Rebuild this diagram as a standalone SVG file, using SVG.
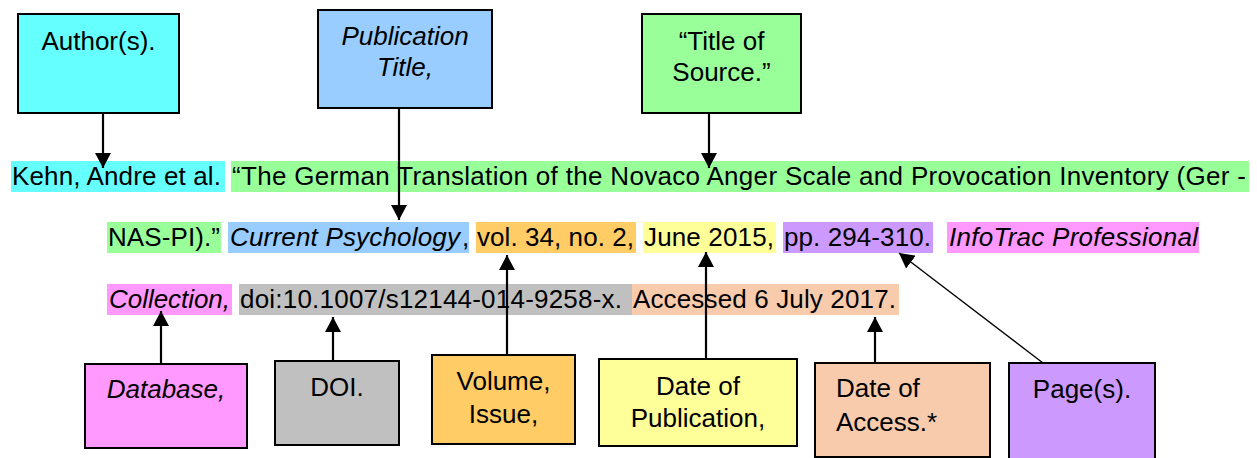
<svg xmlns="http://www.w3.org/2000/svg" width="1257" height="458" viewBox="0 0 1257 458">
<style>
  text { font-family: "Liberation Sans", Arial, sans-serif; font-size: 26px; fill: #000; }
  .it { font-style: italic; }
  .box { stroke: #000; stroke-width: 2; }
  .c { text-anchor: middle; }
  .conn { stroke: #000; stroke-width: 2.2; fill: none; }
  .thin { stroke: #000; stroke-width: 1.3; fill: none; }
</style>
<defs>
  <marker id="ah" markerUnits="userSpaceOnUse" markerWidth="16" markerHeight="16" viewBox="0 0 16 16" refX="15" refY="8" orient="auto">
    <path d="M0,0 L15,8 L0,16 Z" fill="#000"/>
  </marker>
</defs>
<rect width="1257" height="458" fill="#fff"/>

<g id="citation">
  <rect x="11" y="161" width="214" height="31" fill="#66FFFF"/>
  <rect x="231" y="161" width="1018" height="31" fill="#99FF99"/>
  <text x="12" y="185" textLength="209" lengthAdjust="spacing">Kehn, Andre et al.</text>
  <text x="232" y="185" textLength="1014" lengthAdjust="spacing">“The German Translation of the Novaco Anger Scale and Provocation Inventory (Ger -</text>

  <rect x="107" y="222" width="114" height="31" fill="#99FF99"/>
  <rect x="228" y="222" width="241" height="31" fill="#99CCFF"/>
  <rect x="476" y="222" width="160" height="31" fill="#FFCC66"/>
  <rect x="643" y="222" width="133" height="31" fill="#FFFF99"/>
  <rect x="783" y="222" width="150" height="31" fill="#CC99FF"/>
  <rect x="947" y="222" width="252" height="31" fill="#FF99FF"/>
  <text x="108" y="246" textLength="112" lengthAdjust="spacing">NAS-PI).”</text>
  <text x="230" y="246" class="it" textLength="230" lengthAdjust="spacing">Current Psychology</text>
  <text x="462" y="246">,</text>
  <text x="477" y="246" textLength="157" lengthAdjust="spacing">vol. 34, no. 2,</text>
  <text x="644" y="246" textLength="130" lengthAdjust="spacing">June 2015,</text>
  <text x="784" y="246" textLength="147" lengthAdjust="spacing">pp. 294-310.</text>
  <text x="949" y="246" class="it" textLength="249" lengthAdjust="spacing">InfoTrac Professional</text>

  <rect x="107" y="284" width="125" height="31" fill="#FF99FF"/>
  <rect x="239" y="284" width="393" height="31" fill="#C0C0C0"/>
  <rect x="632" y="284" width="267" height="31" fill="#F8CBAD"/>
  <text x="109" y="308" class="it" textLength="121" lengthAdjust="spacing">Collection,</text>
  <text x="240" y="308" textLength="382" lengthAdjust="spacing">doi:10.1007/s12144-014-9258-x.</text>
  <text x="633" y="308" textLength="263" lengthAdjust="spacing">Accessed 6 July 2017.</text>
</g>

<g id="node-author">
  <rect class="box" x="18" y="14" width="161" height="99" fill="#66FFFF"/>
  <text class="c" x="98.5" y="50">Author(s).</text>
</g>
<g id="node-pubtitle">
  <rect class="box" x="318" y="10" width="174" height="98" fill="#99CCFF"/>
  <text class="c it" x="405" y="45">Publication</text>
  <text class="c it" x="405" y="76">Title,</text>
</g>
<g id="node-title">
  <rect class="box" x="642" y="14" width="159" height="99" fill="#99FF99"/>
  <text class="c" x="721.5" y="50">“Title of</text>
  <text class="c" x="721.5" y="81">Source.”</text>
</g>
<g id="node-database">
  <rect class="box" x="85" y="364" width="162" height="84" fill="#FF99FF"/>
  <text class="c it" x="166" y="398">Database,</text>
</g>
<g id="node-doi">
  <rect class="box" x="275" y="361" width="124" height="84" fill="#C0C0C0"/>
  <text class="c" x="337" y="396">DOI.</text>
</g>
<g id="node-volume">
  <rect class="box" x="432" y="355" width="143" height="89" fill="#FFCC66"/>
  <text class="c" x="503.5" y="390">Volume,</text>
  <text class="c" x="503.5" y="423">Issue,</text>
</g>
<g id="node-pubdate">
  <rect class="box" x="599" y="359" width="198" height="87" fill="#FFFF99"/>
  <text class="c" x="698" y="395">Date of</text>
  <text class="c" x="698" y="427">Publication,</text>
</g>
<g id="node-access">
  <rect class="box" x="815" y="363" width="175" height="94" fill="#F8CBAD"/>
  <text x="836" y="397">Date of</text>
  <text x="836" y="431">Access.*</text>
</g>
<g id="node-pages">
  <rect class="box" x="1009" y="363" width="146" height="100" fill="#CC99FF"/>
  <text class="c" x="1082" y="398">Page(s).</text>
</g>

<g id="connectors">
  <line class="conn" x1="103" y1="113" x2="103" y2="168" marker-end="url(#ah)"/>
  <line class="conn" x1="399" y1="108" x2="399" y2="220" marker-end="url(#ah)"/>
  <line class="conn" x1="709" y1="113" x2="709" y2="168" marker-end="url(#ah)"/>
  <line class="conn" x1="161" y1="364" x2="161" y2="311" marker-end="url(#ah)"/>
  <line class="conn" x1="333" y1="361" x2="333" y2="317" marker-end="url(#ah)"/>
  <line class="conn" x1="507" y1="355" x2="507" y2="255" marker-end="url(#ah)"/>
  <line class="conn" x1="706" y1="359" x2="706" y2="252" marker-end="url(#ah)"/>
  <line class="conn" x1="875" y1="363" x2="875" y2="317" marker-end="url(#ah)"/>
  <line class="thin" x1="1043" y1="363" x2="899" y2="253" marker-end="url(#ah)"/>
</g>
</svg>
